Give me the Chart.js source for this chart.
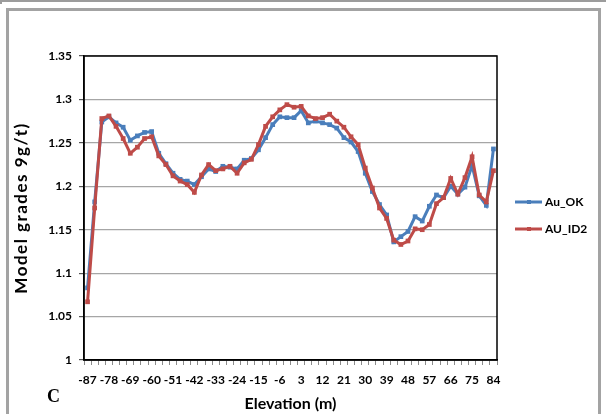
<!DOCTYPE html>
<html>
<head>
<meta charset="utf-8">
<script src="https://cdn.jsdelivr.net/npm/chart.js@4.4.1/dist/chart.umd.min.js"></script>
<style>
    body { margin: 0; background: #fff; }
    #wrap { position: relative; width: 606px; height: 414px; overflow: hidden; }
    .frame-top { position: absolute; left: 0; top: 0; width: 606px; height: 2px; background: #9c9c9c; }
    .frame-corner { position: absolute; left: 0; top: 0; width: 2px; height: 4px; background: #9c9c9c; }
    .frame-inner { position: absolute; left: 6px; top: 8px; width: 595px; height: 430px; box-sizing: border-box;
        border: 3px solid #a3a3a3; border-bottom: none; }
    #panel { position: absolute; left: 47px; top: 386px; font: bold 18px "Liberation Serif", serif; color: #000; }
    canvas { position: absolute; left: 0; top: 0; }
</style>
</head>
<body>
<div id="wrap">
    <div class="frame-top"></div>
    <div class="frame-corner"></div>
    <div class="frame-inner"></div>
    <canvas id="gradeChart" width="606" height="414"></canvas>
    <div id="panel">C</div>
</div>
<script>
// Elevaciones (m) - una categoría cada 3 m
const elevations = [-87, -84, -81, -78, -75, -72, -69, -66, -63, -60, -57, -54, -51, -48, -45, -42, -39, -36, -33, -30,
    -27, -24, -21, -18, -15, -12, -9, -6, -3, 0, 3, 6, 9, 12, 15, 18, 21, 24, 27, 30,
    33, 36, 39, 42, 45, 48, 51, 54, 57, 60, 63, 66, 69, 72, 75, 78, 81, 84];

// Leyes del modelo (g/t)
const auOk = [1.083, 1.182, 1.274, 1.280, 1.273, 1.268, 1.253, 1.258, 1.262, 1.263, 1.238, 1.226, 1.215, 1.208, 1.206, 1.202,
    1.211, 1.220, 1.217, 1.223, 1.222, 1.220, 1.230, 1.232, 1.242, 1.256, 1.271, 1.280, 1.279, 1.279, 1.287, 1.273,
    1.275, 1.273, 1.271, 1.267, 1.256, 1.251, 1.240, 1.215, 1.194, 1.179, 1.167, 1.136, 1.142, 1.148, 1.165, 1.160,
    1.177, 1.190, 1.187, 1.200, 1.191, 1.199, 1.224, 1.189, 1.178, 1.243];
const auId2 = [1.067, 1.175, 1.278, 1.281, 1.269, 1.255, 1.238, 1.245, 1.255, 1.257, 1.235, 1.225, 1.212, 1.206, 1.202, 1.193,
    1.213, 1.225, 1.218, 1.220, 1.223, 1.215, 1.227, 1.231, 1.248, 1.269, 1.280, 1.288, 1.294, 1.291, 1.292, 1.281,
    1.278, 1.279, 1.283, 1.275, 1.268, 1.257, 1.248, 1.221, 1.198, 1.175, 1.163, 1.138, 1.133, 1.137, 1.151, 1.150,
    1.156, 1.180, 1.187, 1.209, 1.191, 1.210, 1.234, 1.190, 1.182, 1.218];

const seriesNames = ['Au_OK', 'AU_ID2'];
const yMin = 1;
const yMax = 1.35;
const yStep = 0.05;
const labelEvery = 3;
const yTitleText = 'Model grades 9g/t)';

const BLUE = '#4a7ebb';
const RED = '#be4b48';

Chart.defaults.font.family = 'Lato';
Chart.defaults.font.weight = 'bold';
Chart.defaults.color = '#000';

// Marco negro del área de trazado
const plotBorder = {
    id: 'plotBorder',
    beforeDatasetsDraw(chart) {
        const { ctx, chartArea: a } = chart;
        ctx.save();
        ctx.strokeStyle = '#000';
        ctx.lineWidth = 1.5;
        ctx.strokeRect(a.left, a.top, a.right - a.left, a.bottom - a.top);
        ctx.restore();
    }
};

// Título vertical: Excel lo dibuja más grande y espaciado
const yTitle = {
    id: 'yTitle',
    afterDraw(chart) {
        const { ctx, chartArea: a } = chart;
        ctx.save();
        ctx.translate(22, (a.top + a.bottom) / 2);
        ctx.rotate(-Math.PI / 2);
        ctx.font = 'bold 17px Lato';
        ctx.letterSpacing = '1.5px';
        ctx.textAlign = 'center';
        ctx.textBaseline = 'middle';
        ctx.fillStyle = '#000';
        ctx.fillText(yTitleText, 0, 0);
        ctx.restore();
    }
};

// Leyenda a la derecha, como en Excel
const sideLegend = {
    id: 'sideLegend',
    afterDraw(chart) {
        const ctx = chart.ctx;
        ctx.save();
        ctx.font = 'bold 12px Lato';
        ctx.textBaseline = 'middle';
        chart.data.datasets.forEach((ds, i) => {
            const y = 202 + i * 27;
            ctx.strokeStyle = ds.borderColor;
            ctx.lineWidth = 3;
            ctx.beginPath();
            ctx.moveTo(515, y);
            ctx.lineTo(542, y);
            ctx.stroke();
            ctx.fillStyle = ds.borderColor;
            ctx.fillRect(527, y - 2, 4, 4);
            ctx.fillStyle = '#000';
            ctx.fillText(ds.label, 545, y);
        });
        ctx.restore();
    }
};

const ctx = document.getElementById('gradeChart').getContext('2d');
new Chart(ctx, {
    type: 'line',
    data: {
        labels: elevations,
        datasets: [
            {
                label: seriesNames[0],
                data: auOk,
                borderColor: BLUE,
                backgroundColor: BLUE,
                borderWidth: 3,
                pointRadius: 1.2,
                pointStyle: 'rect',
                tension: 0,
                order: 2
            },
            {
                label: seriesNames[1],
                data: auId2,
                borderColor: RED,
                backgroundColor: RED,
                borderWidth: 3,
                pointRadius: 1.2,
                pointStyle: 'rect',
                tension: 0,
                order: 1
            }
        ]
    },
    options: {
        responsive: false,
        animation: false,
        layout: { padding: { left: 0, top: 56, right: 109, bottom: 0 } },
        plugins: {
            legend: { display: false },
            tooltip: { enabled: false }
        },
        scales: {
            x: {
                offset: true,
                grid: {
                    offset: true,
                    drawOnChartArea: false,
                    drawTicks: true,
                    tickLength: 5,
                    tickColor: '#8c8c8c'
                },
                border: { color: '#000', width: 1.5 },
                ticks: {
                    autoSkip: false,
                    maxRotation: 0,
                    padding: 8,
                    font: { size: 12, weight: 'bold' },
                    callback: function(value, index) {
                        return index % labelEvery === 0 ? this.getLabelForValue(value) : '';
                    }
                },
                title: {
                    display: true,
                    text: 'Elevation (m)',
                    font: { size: 16, weight: 'bold' },
                    padding: { top: 0, bottom: 1 }
                },
                afterFit(scale) { scale.height = 54; }
            },
            y: {
                min: yMin,
                max: yMax,
                grid: {
                    color: '#a6a6a6',
                    lineWidth: 1.2,
                    drawTicks: true,
                    tickLength: 5,
                    tickColor: '#555'
                },
                border: { color: '#000', width: 1.5 },
                ticks: {
                    stepSize: yStep,
                    padding: 7,
                    font: { size: 12, weight: 'bold' },
                    callback: value => Number(value.toFixed(2)).toString()
                },
                afterFit(scale) { scale.width = 84; }
            }
        }
    },
    plugins: [plotBorder, yTitle, sideLegend]
});
</script>
</body>
</html>
